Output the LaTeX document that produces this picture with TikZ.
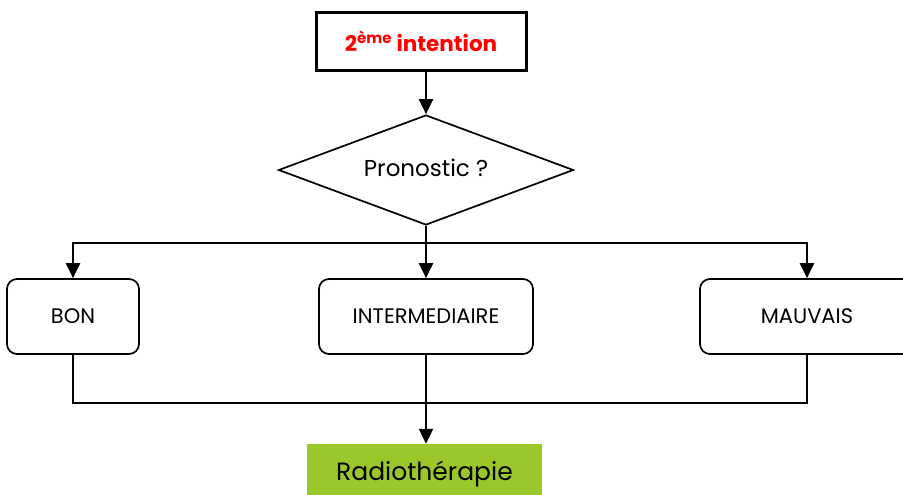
\documentclass[tikz,border=0pt]{standalone}
\usepackage{fontspec}
\setmainfont{Poppins}
\usetikzlibrary{shapes.geometric,arrows.meta}
\definecolor{titlered}{HTML}{FF0000}
\definecolor{radiogreen}{HTML}{9AC82B}

\begin{document}
\begin{tikzpicture}[x=1pt,y=-1pt,
  conn/.style={line width=2.2pt,-{Triangle[width=14pt,length=15pt]}},
  wire/.style={line width=2pt},
  choice/.style={draw,line width=1.7pt,rounded corners=10pt,
    minimum height=75pt,inner sep=0pt,
    font=\fontsize{21}{24}\selectfont}]
\useasboundingbox (0,0) rectangle (903,495);

% heading box
\node[draw,line width=3pt,minimum width=210pt,minimum height=58pt,inner sep=0pt,
  text=titlered,font=\bfseries\fontsize{21.5}{24}\selectfont] (top) at (421,42)
  {\raisebox{2pt}{2\textsuperscript{ème} intention}};

% decision
\node[draw,diamond,line width=1.7pt,aspect=2.68,minimum width=295pt,minimum height=110pt,
  inner sep=0pt,font=\fontsize{23}{27}\selectfont] (dia) at (426,170) {\raisebox{4pt}{Pronostic ?}};

% outcomes
\node[choice,minimum width=132pt] (bon) at (73,316.5) {BON};
\node[choice,minimum width=214pt] (mid) at (426,316.5) {INTERMEDIAIRE};
\node[choice,minimum width=214pt] (mau) at (807,316.5) {MAUVAIS};

% treatment
\node[fill=radiogreen,minimum width=235pt,minimum height=60pt,inner sep=0pt,
  font=\fontsize{25}{30}\selectfont] (radio) at (424.5,474) {Radiothérapie};

\coordinate (split) at (426,243);
\coordinate (join) at (426,403);

\draw[conn] (top.south -| dia.north) -- (dia.north);
\draw[wire] (dia.south) -- (split);
\draw[conn] (split) -- (mid.north);
\draw[conn] (split) -| (bon.north);
\draw[conn] (split) -| (mau.north);

\draw[wire] (bon.south) -- (bon.south |- join) -- (mau.south |- join) -- (mau.south);
\draw[conn] (mid.south) -- (mid.south |- radio.north);
\end{tikzpicture}
\end{document}
